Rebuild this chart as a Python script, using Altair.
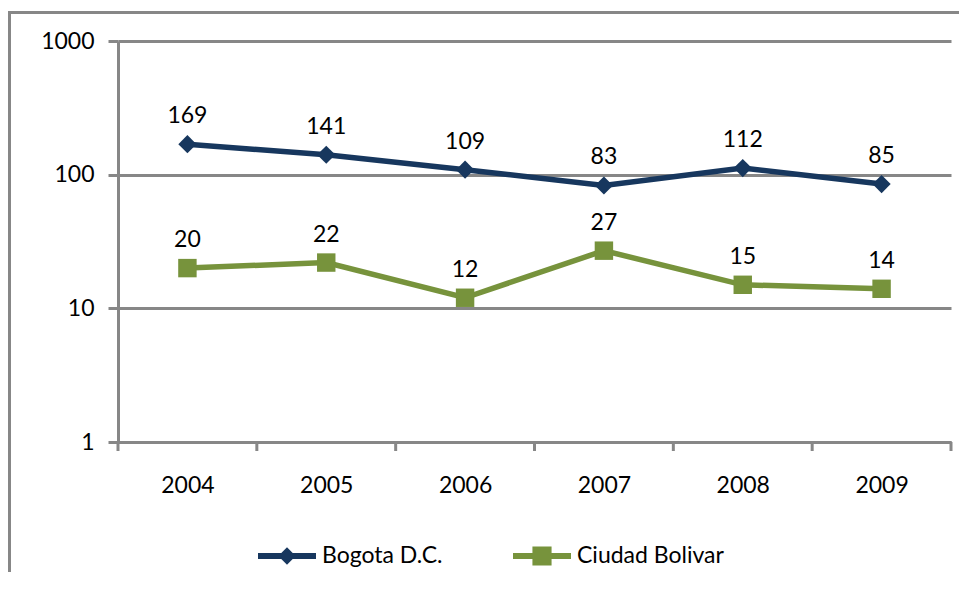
import altair as alt
import pandas as pd

years = [2004, 2005, 2006, 2007, 2008, 2009]
bogota = [169, 141, 109, 83, 112, 85]
ciudad = [20, 22, 12, 27, 15, 14]
series = ["Bogota D.C.", "Ciudad Bolivar"]
colors = ["#17375E", "#77933C"]
y_ticks = [1, 10, 100, 1000]
x_bounds = [2003.5, 2004.5, 2005.5, 2006.5, 2007.5, 2008.5, 2009.5]

rows = []
for yr, v in zip(years, bogota):
    rows.append({"year": yr, "value": v, "series": series[0]})
for yr, v in zip(years, ciudad):
    rows.append({"year": yr, "value": v, "series": series[1]})
df = pd.DataFrame(rows)

FONT = "Lato"
GRAY = "#878787"
FS = 23

legend_paths = [
    "M-1,-0.1L1,-0.1L1,0.1L-1,0.1Z M-0.3,0L0,-0.3L0.3,0L0,0.3Z",
    "M-1,-0.1L1,-0.1L1,0.1L-1,0.1Z M-0.33,-0.33L0.33,-0.33L0.33,0.33L-0.33,0.33Z",
]

x_scale = alt.Scale(domain=[2003.5, 2009.5], nice=False, zero=False)
x_axis = alt.Axis(values=years, title=None, grid=False, ticks=False,
                  labelPadding=32, labelExpr="toString(datum.value)")
x_enc = alt.X("year:Q", scale=x_scale, axis=x_axis)
y_enc = alt.Y(
    "value:Q",
    scale=alt.Scale(type="log", domain=[1, 1000], nice=False),
    axis=alt.Axis(values=y_ticks, format="d", title=None, grid=True,
                  tickSize=10, labelPadding=14),
)
color_scale = alt.Scale(domain=series, range=colors)
legend = alt.Legend(
    orient="none", legendX=140, legendY=486, direction="horizontal",
    title=None, symbolSize=3364, symbolStrokeWidth=0, labelFont=FONT,
    labelFontSize=FS, labelColor="black", labelOffset=6, columnPadding=70,
    padding=0, symbolOpacity=1,
)
color_enc = alt.Color("series:N", scale=color_scale, legend=legend)
shape_enc = alt.Shape("series:N", scale=alt.Scale(domain=series, range=legend_paths), legend=legend)

base = alt.Chart(df)

lines = base.mark_line(strokeWidth=5.5).encode(x=x_enc, y=y_enc, color=color_enc)
pts_b = base.transform_filter(alt.datum.series == series[0]).mark_point(
    shape="diamond", filled=True, size=330, opacity=1
).encode(x=x_enc, y=y_enc, color=color_enc)
pts_c = base.transform_filter(alt.datum.series == series[1]).mark_point(
    shape="square", filled=True, size=340, opacity=1
).encode(x=x_enc, y=y_enc, color=color_enc)

labels = base.mark_text(dy=-28, fontSize=FS, font=FONT, color="black").encode(
    x=x_enc, y=y_enc, text=alt.Text("value:Q", format="d")
)

legend_layer = base.transform_filter("false").mark_point(filled=True, opacity=1).encode(
    x=x_enc, y=y_enc, color=color_enc, shape=shape_enc,
)

bound_ticks = alt.Chart(pd.DataFrame({"b": x_bounds})).mark_rule(
    color=GRAY, strokeWidth=3
).encode(
    x=alt.X("b:Q", scale=x_scale, axis=x_axis),
    y=alt.value(401), y2=alt.value(410),
)

frame_df = pd.DataFrame({"k": [0]})
frame_left = alt.Chart(frame_df).mark_rule(color=GRAY, strokeWidth=3).encode(
    x=alt.value(-108.5), y=alt.value(-30), y2=alt.value(560)
)
frame_top = alt.Chart(frame_df).mark_rule(color=GRAY, strokeWidth=3).encode(
    x=alt.value(-110), x2=alt.value(870), y=alt.value(-28.5)
)

chart = alt.layer(
    bound_ticks, lines, pts_b, pts_c, labels, legend_layer, frame_left, frame_top
).properties(
    width=833, height=401,
    padding={"left": 110, "top": 33, "right": 8, "bottom": 130},
    autosize=alt.AutoSizeParams(type="none"),
).configure_view(stroke=None).configure_axis(
    domainColor=GRAY, domainWidth=3, tickColor=GRAY, tickWidth=3,
    gridColor=GRAY, gridWidth=3, gridOpacity=1,
    labelFont=FONT, labelFontSize=FS, labelColor="black",
)

chart.save("out.html", embed_options={"renderer": "svg", "actions": False})
